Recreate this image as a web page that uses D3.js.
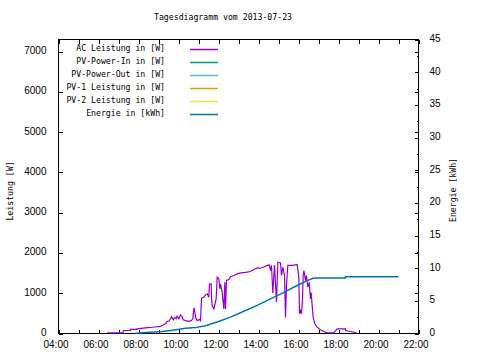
<!DOCTYPE html>
<html>
<head>
<meta charset="utf-8">
<script src="https://cdn.jsdelivr.net/npm/d3@7"></script>
<style>
  body { margin: 0; background: #fff; }
  svg { display: block; font-family: "DejaVu Sans Mono", monospace; font-size: 8.2px; }
  .axis text { fill: #000; }
  .axis line { stroke: #000; shape-rendering: crispEdges; }
</style>
</head>
<body>
<div id="chart"></div>
<script>
const title = 'Tagesdiagramm vom 2013-07-23';
const day = '2013-07-23';

// AC Leistung in W
const acTimes = ['06:26','07:14','07:14','07:36','07:36','07:56','07:56','08:21','08:41','09:06','09:11','09:21','09:26','09:31','09:36','09:39','09:44','09:48','09:53','09:56','10:01','10:06','10:11','10:14','10:21','10:31','10:38','10:43','10:46','10:48','10:51','10:56','11:03','11:06','11:09','11:16','11:21','11:26','11:31','11:33','11:38','11:39','11:41','11:46','11:53','11:56','12:01','12:04','12:06','12:11','12:16','12:19','12:21','12:24','12:31','12:36','12:46','12:56','13:06','13:21','13:36','13:46','13:56','14:06','14:16','14:26','14:33','14:36','14:39','14:43','14:48','14:54','14:58','15:06','15:09','15:13','15:18','15:21','15:24','15:28','15:41','15:56','16:01','16:03','16:06','16:09','16:12','16:14','16:16','16:21','16:24','16:28','16:32','16:36','16:38','16:41','16:44','16:49','16:54','17:04','17:16','17:26','17:46','17:56','18:21','18:21','18:36','18:54'];
const acWatts = [15,15,75,75,100,100,115,140,155,175,200,240,300,305,365,420,340,400,365,430,365,460,420,340,320,300,320,365,640,590,400,320,350,320,880,900,960,985,900,1230,1230,900,695,610,860,1400,1360,1110,1230,1020,610,1270,610,1320,1340,1410,1440,1480,1505,1520,1540,1590,1630,1620,1650,1690,1700,1560,1690,1000,1700,780,1770,1750,1440,1650,1440,400,1190,1690,1690,1710,1400,490,570,490,860,1440,1560,1320,1440,1150,1270,860,1020,695,400,240,175,100,50,15,15,115,115,75,50,15];

// Energie in kWh
const energyTimes = ['07:51','09:11','09:36','10:03','10:21','10:51','11:21','11:56','12:36','13:16','13:56','14:36','15:16','15:56','16:26','16:46','18:21','18:21','21:00'];
const energyKwh = [0.05,0.3,0.45,0.65,0.8,0.9,1.2,1.75,2.5,3.4,4.3,5.3,6.3,7.35,8.1,8.5,8.5,8.7,8.7];

const legendLabels = ['AC Leistung in [W]','PV-Power-In in [W]','PV-Power-Out in [W]','PV-1 Leistung in [W]','PV-2 Leistung in [W]','Energie in [kWh]'];
const legendColors = ['#9400d3','#009e73','#56b4e9','#e69f00','#f0e442','#0072b2'];

const leftTicks = [0,1000,2000,3000,4000,5000,6000,7000];
const rightTicks = [0,5,10,15,20,25,30,35,40,45];
const rightMinor = [2.5,7.5,12.5,17.5,22.5,27.5,32.5,37.5,42.5];

const width = 480, height = 360;
const margin = { top: 39, right: 62, bottom: 27, left: 58 };
const innerW = width - margin.left - margin.right;
const innerH = height - margin.top - margin.bottom;

const parseTime = d3.timeParse('%Y-%m-%d %H:%M');
const t = s => parseTime(`${day} ${s}`);

const acData = acTimes.map((s, i) => ({ time: t(s), value: acWatts[i] }));
const energyData = energyTimes.map((s, i) => ({ time: t(s), value: energyKwh[i] }));

const x = d3.scaleTime().domain([t('04:00'), t('22:00')]).range([0, innerW]);
const y = d3.scaleLinear().domain([0, 7300]).range([innerH, 0]);
const y2 = d3.scaleLinear().domain([0, 45]).range([innerH, 0]);

const svg = d3.select('#chart').append('svg')
  .attr('width', width)
  .attr('height', height);

svg.append('rect').attr('width', width).attr('height', height).attr('fill', '#fff');

svg.append('text')
  .attr('x', 154)
  .attr('y', 20)
  .text(title);

const g = svg.append('g')
  .attr('transform', `translate(${margin.left + 0.5}, ${margin.top + 0.5})`);

const hours = d3.timeHour.range(t('04:00'), t('22:01'));

g.append('g')
  .attr('class', 'axis')
  .attr('transform', `translate(0, ${innerH})`)
  .call(d3.axisBottom(x).tickValues(hours).tickSizeInner(-4).tickSizeOuter(0)
    .tickFormat(d => d.getHours() % 2 === 0 ? d3.timeFormat('%H:%M')(d) : ''))
  .call(a => a.select('.domain').remove())
  .call(a => a.selectAll('text').attr('y', 14.5).attr('dy', 0).attr('dx', -3));

g.append('g')
  .attr('class', 'axis')
  .call(d3.axisTop(x).tickValues(hours).tickSizeInner(-4).tickSizeOuter(0).tickFormat(''))
  .call(a => a.select('.domain').remove());

g.append('g')
  .attr('class', 'axis')
  .call(d3.axisLeft(y).tickValues(leftTicks).tickFormat(d3.format('d'))
    .tickSizeInner(-4).tickSizeOuter(0).tickPadding(12))
  .call(a => a.select('.domain').remove())
  .call(a => a.selectAll('text').attr('dy', '0.2em'));

// left ticks mirrored on the right border
g.append('g')
  .attr('class', 'axis')
  .attr('transform', `translate(${innerW}, 0)`)
  .call(d3.axisRight(y).tickValues(leftTicks).tickSizeInner(-4).tickSizeOuter(0).tickFormat(''))
  .call(a => a.select('.domain').remove());

g.append('g')
  .attr('class', 'axis')
  .attr('transform', `translate(${innerW}, 0)`)
  .call(d3.axisRight(y2).tickValues(rightTicks).tickSizeInner(-4).tickSizeOuter(0).tickPadding(11))
  .call(a => a.select('.domain').remove())
  .call(a => a.selectAll('text').attr('dy', '0.2em'));

g.append('g')
  .attr('class', 'axis')
  .attr('transform', `translate(${innerW}, 0)`)
  .call(d3.axisRight(y2).tickValues(rightMinor).tickSizeInner(-2).tickSizeOuter(0).tickFormat(''))
  .call(a => a.select('.domain').remove());

g.append('rect')
  .attr('width', innerW)
  .attr('height', innerH)
  .attr('fill', 'none')
  .attr('stroke', '#000')
  .attr('shape-rendering', 'crispEdges');

svg.append('text')
  .attr('transform', `translate(13, 191) rotate(-90)`)
  .attr('text-anchor', 'middle')
  .text('Leistung [W]');

svg.append('text')
  .attr('transform', `translate(455.5, 190) rotate(-90)`)
  .attr('text-anchor', 'middle')
  .text('Energie [kWh]');

// legend
const legend = svg.append('g');
const rows = legend.selectAll('g')
  .data(legendLabels)
  .join('g')
  .attr('transform', (_d, i) => `translate(0, ${49.5 + i * 13})`);

rows.append('text')
  .attr('x', 165)
  .attr('y', 1)
  .attr('text-anchor', 'end')
  .text(d => d);

rows.append('line')
  .attr('x1', 190)
  .attr('x2', 218)
  .attr('stroke', (_d, i) => legendColors[i])
  .attr('stroke-width', 1.5);

const line = d3.line()
  .x(d => x(d.time))
  .y(d => y(d.value));

const energyLine = d3.line()
  .x(d => x(d.time))
  .y(d => y2(d.value));

g.append('path')
  .datum(acData)
  .attr('fill', 'none')
  .attr('stroke', legendColors[0])
  .attr('stroke-width', 1.2)
  .attr('d', line);

g.append('path')
  .datum(energyData)
  .attr('fill', 'none')
  .attr('stroke', legendColors[5])
  .attr('stroke-width', 1.5)
  .attr('d', energyLine);
</script>
</body>
</html>
